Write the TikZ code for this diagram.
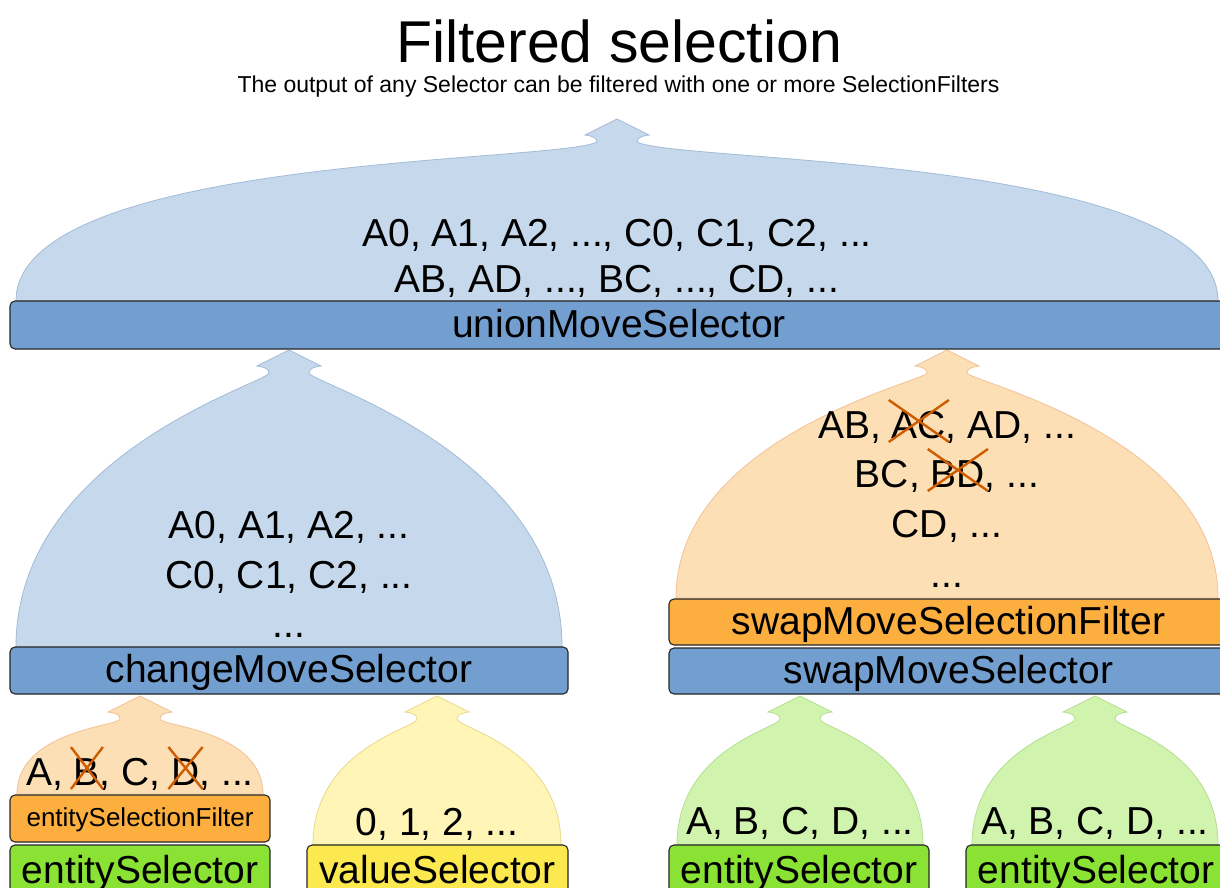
\documentclass[tikz,border=0pt]{standalone}
\usepackage{fontspec}
\setmainfont{Liberation Sans}
\definecolor{boxblue}{HTML}{729FCF}
\definecolor{fanblue}{HTML}{C6D9EC}
\definecolor{fanblueline}{HTML}{A2BBD8}
\definecolor{boxorange}{HTML}{FCAF3E}
\definecolor{fanorange}{HTML}{FDDFB5}
\definecolor{fanorangeline}{HTML}{F2C299}
\definecolor{boxgreen}{HTML}{8AE234}
\definecolor{fangreen}{HTML}{D0F3AE}
\definecolor{fangreenline}{HTML}{B5DE90}
\definecolor{boxyellow}{HTML}{FCE94F}
\definecolor{fanyellow}{HTML}{FEF5B6}
\definecolor{fanyellowline}{HTML}{EAD98A}
\definecolor{crossc}{HTML}{CE5C00}
\tikzset{
  selbox/.style={draw=black!85, line width=1.1pt, rounded corners=5pt, inner sep=0pt,
    font=\fontsize{39}{39}\selectfont, text height=30pt, text depth=6pt},
  smallbox/.style={selbox, font=\fontsize{26}{26}\selectfont, text height=20pt, text depth=5pt},
  bigtxt/.style={font=\fontsize{39}{39}\selectfont, inner sep=0pt, anchor=base},
  crossline/.style={draw=crossc, line width=2.4pt},
  fanB/.style={fill=fanblue, draw=fanblueline, line width=0.8pt},
  fanO/.style={fill=fanorange, draw=fanorangeline, line width=0.8pt},
  fanG/.style={fill=fangreen, draw=fangreenline, line width=0.8pt},
  fanY/.style={fill=fanyellow, draw=fanyellowline, line width=0.8pt},
}
% #1 style, #2 xc, #3 tip y, #4 half width, #5 height, #6 P1 dx, #7 P1 dy, #8 P2 fraction
\newcommand{\fanpath}[8]{%
  \path[#1] (#2,#3) -- ({#2-32},{#3+16})
    .. controls ({#2-24},{#3+17}) and ({#2-20},{#3+19}) .. ({#2-20},{#3+23})
    .. controls ({#2-#6},{#3+#7}) and ({#2-#4},{#3+#5*#8}) .. ({#2-#4},{#3+#5})
    -- ({#2+#4},{#3+#5})
    .. controls ({#2+#4},{#3+#5*#8}) and ({#2+#6},{#3+#7}) .. ({#2+20},{#3+23})
    .. controls ({#2+20},{#3+19}) and ({#2+24},{#3+17}) .. ({#2+32},{#3+16})
    -- cycle;}
\newcommand{\struck}[1]{\tikz[baseline=(sk.base)]{\node[inner sep=0pt,outer sep=0pt,anchor=base] (sk) at (0,0) {#1};
  \draw[crossline, overlay] ([xshift=-3pt,yshift=-4pt]sk.base west) -- ([xshift=3pt,yshift=38pt]sk.base east);
  \draw[crossline, overlay] ([xshift=-3pt,yshift=38pt]sk.base west) -- ([xshift=3pt,yshift=-4pt]sk.base east);}}
\begin{document}
\begin{tikzpicture}[x=1pt,y=-1pt]
\useasboundingbox (0,0) rectangle (1220,888);
\clip (0,0) rectangle (1220,888);
\fill[white] (0,0) rectangle (1220,888);

% title
\node[font=\fontsize{59}{59}\selectfont, inner sep=0pt, anchor=base] (title) at (619,63) {Filtered selection};
\node[font=\fontsize{23}{23}\selectfont, inner sep=0pt, anchor=base] (subtitle) at (618.5,93) {The output of any Selector can be filtered with one or more SelectionFilters};

% fans
\fanpath{fanB}{617}{119}{601}{182}{60}{44}{0.2}
\fanpath{fanB}{289}{350}{273}{297}{21}{33}{0.35}
\fanpath{fanO}{947}{350}{271}{248}{21}{31}{0.35}
\fanpath{fanO}{140}{696}{123}{98}{20}{30}{0.35}
\fanpath{fanY}{437}{696}{124}{149}{20}{32}{0.35}
\fanpath{fanG}{800}{696}{123}{149}{20}{32}{0.35}
\fanpath{fanG}{1095}{696}{123}{149}{20}{32}{0.35}

% boxes
\node[selbox, fill=boxblue, minimum width=1218pt, minimum height=48pt] (union) at (619,325) {unionMoveSelector};
\node[selbox, fill=boxblue, minimum width=558pt, minimum height=47pt] (change) at (289,670.5) {changeMoveSelector};
\node[selbox, fill=boxorange, minimum width=559pt, minimum height=46pt] (swapfilter) at (948.5,622) {swapMoveSelectionFilter};
\node[selbox, fill=boxblue, minimum width=559pt, minimum height=46pt] (swap) at (948.5,671) {swapMoveSelector};
\node[smallbox, fill=boxorange, minimum width=260pt, minimum height=47pt] (entfilter) at (140,818.5) {entitySelectionFilter};
\node[selbox, fill=boxgreen, minimum width=260pt, minimum height=52pt] (ent1) at (140,871) {entitySelector};
\node[selbox, fill=boxyellow, minimum width=261pt, minimum height=52pt] (value) at (437.5,871) {valueSelector};
\node[selbox, fill=boxgreen, minimum width=260pt, minimum height=52pt] (ent2) at (799,871) {entitySelector};
\node[selbox, fill=boxgreen, minimum width=260pt, minimum height=52pt] (ent3) at (1096,871) {entitySelector};

% texts in fans
\node[bigtxt] (u1) at (617,246) {A0, A1, A2, ..., C0, C1, C2, ...};
\node[bigtxt] (u2) at (617,292) {AB, AD, ..., BC, ..., CD, ...};
\node[bigtxt] (c1) at (289,538) {A0, A1, A2, ...};
\node[bigtxt] (c2) at (289,588) {C0, C1, C2, ...};
\node[bigtxt] (c3) at (289,637) {...};
\node[bigtxt] (s1) at (947,438) {AB, \struck{AC}, AD, ...};
\node[bigtxt] (s2) at (947,487) {BC, \struck{BD}, ...};
\node[bigtxt] (s3) at (947,537) {CD, ...};
\node[bigtxt] (s4) at (947,587) {...};
\node[bigtxt] (e1) at (140,785) {A, \struck{B}, C, \struck{D}, ...};
\node[bigtxt] (v1) at (437,835) {0, 1, 2, ...};
\node[bigtxt] (e2) at (800,834) {A, B, C, D, ...};
\node[bigtxt] (e3) at (1095,834) {A, B, C, D, ...};
\end{tikzpicture}
\end{document}
